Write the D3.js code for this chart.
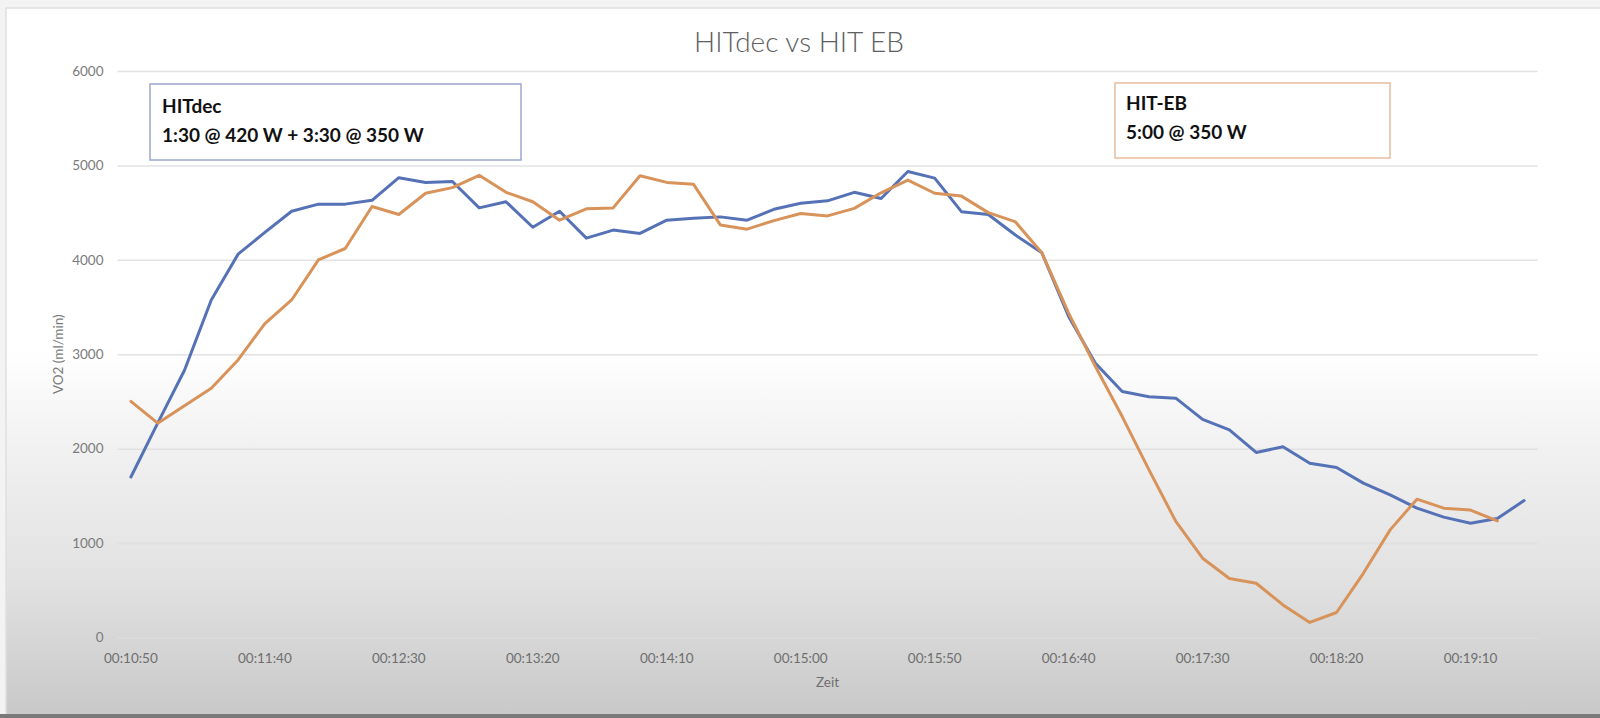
<!DOCTYPE html>
<html>
<head>
<meta charset="utf-8">
<script src="https://cdn.jsdelivr.net/npm/d3@7"></script>
<style>
  html, body { margin: 0; padding: 0; background: #f2f2f2; }
  svg { display: block; }
</style>
</head>
<body>
<svg id="chart" width="1600" height="718"></svg>
<script>
const categories = [
  "00:10:50","00:11:00","00:11:10","00:11:20","00:11:30","00:11:40","00:11:50","00:12:00","00:12:10","00:12:20",
  "00:12:30","00:12:40","00:12:50","00:13:00","00:13:10","00:13:20","00:13:30","00:13:40","00:13:50","00:14:00",
  "00:14:10","00:14:20","00:14:30","00:14:40","00:14:50","00:15:00","00:15:10","00:15:20","00:15:30","00:15:40",
  "00:15:50","00:16:00","00:16:10","00:16:20","00:16:30","00:16:40","00:16:50","00:17:00","00:17:10","00:17:20",
  "00:17:30","00:17:40","00:17:50","00:18:00","00:18:10","00:18:20","00:18:30","00:18:40","00:18:50","00:19:00",
  "00:19:10","00:19:20","00:19:30"
];
const hitDec = [
  1700,2270,2830,3575,4060,4290,4515,4590,4590,4630,
  4870,4820,4830,4550,4615,4345,4515,4230,4315,4280,
  4420,4440,4455,4420,4535,4600,4625,4715,4650,4935,
  4865,4510,4480,4265,4075,3400,2905,2605,2550,2535,
  2310,2200,1960,2020,1845,1800,1635,1510,1370,1275,
  1210,1260,1450
];
const hitEB = [
  2500,2270,2455,2640,2940,3325,3575,4000,4120,4565,
  4480,4705,4765,4895,4715,4615,4420,4540,4550,4890,
  4820,4800,4370,4325,4415,4490,4465,4545,4710,4845,
  4705,4675,4500,4405,4075,3435,2870,2340,1775,1230,
  840,625,575,345,160,265,680,1140,1465,1370,
  1350,1235
];
const xTickLabels = ["00:10:50","00:11:40","00:12:30","00:13:20","00:14:10","00:15:00","00:15:50","00:16:40","00:17:30","00:18:20","00:19:10"];
const yTickValues = [0,1000,2000,3000,4000,5000,6000];

const svg = d3.select("#chart");
const W = 1600, H = 718;
const plot = { left: 117.5, right: 1537.5, top: 71, bottom: 637.5 };

// background with bottom vignette
const defs = svg.append("defs");
const grad = defs.append("linearGradient").attr("id","bg").attr("x1",0).attr("y1",0).attr("x2",0).attr("y2",1);
grad.append("stop").attr("offset","0%").attr("stop-color","#ffffff");
grad.append("stop").attr("offset","48%").attr("stop-color","#ffffff");
grad.append("stop").attr("offset","62%").attr("stop-color","#f1f1f1");
grad.append("stop").attr("offset","80%").attr("stop-color","#e2e2e2");
grad.append("stop").attr("offset","100%").attr("stop-color","#c8c8c8");

svg.append("rect").attr("x",0).attr("y",0).attr("width",W).attr("height",H).attr("fill","#f3f3f3");
svg.append("rect").attr("x",6).attr("y",8).attr("width",1600).attr("height",H-8).attr("fill","url(#bg)")
  .attr("stroke","#e0e0e0").attr("stroke-width",1.5);
svg.append("rect").attr("x",0).attr("y",714).attr("width",W).attr("height",4).attr("fill","#7a7a7a");

const x = d3.scaleBand().domain(categories).range([plot.left, plot.right]);
const cx = d => x(d) + x.bandwidth() / 2;
const y = d3.scaleLinear().domain([0, 6000]).range([plot.bottom, plot.top]);

// y axis with gridlines
const yAxis = svg.append("g").attr("transform", `translate(${plot.left},0)`)
  .call(d3.axisLeft(y).tickValues(yTickValues).tickSize(-(plot.right - plot.left)).tickPadding(14).tickFormat(d3.format("d")));
yAxis.select(".domain").remove();
yAxis.selectAll(".tick line").attr("stroke","#dedede").attr("stroke-width",1.5).attr("stroke-opacity",0.85);
yAxis.selectAll(".tick text").attr("fill","#7a7a7a").style("font-family","Lato, 'Open Sans', sans-serif").style("font-size","13.5px");

// x axis
const xAxis = svg.append("g").attr("transform", `translate(0,${plot.bottom})`)
  .call(d3.axisBottom(x).tickValues(xTickLabels).tickSize(0));
xAxis.select(".domain").remove();
xAxis.selectAll(".tick text").attr("y",25).attr("dy",null).attr("fill","#6e6e6e")
  .style("font-family","Lato, 'Open Sans', sans-serif").style("font-size","13.5px");

// axis titles
svg.append("text").attr("x",(plot.left+plot.right)/2).attr("y",687).attr("text-anchor","middle")
  .attr("fill","#6e6e6e").style("font-family","Lato, 'Open Sans', sans-serif").style("font-size","13.5px").text("Zeit");
svg.append("text").attr("transform",`translate(63,${(plot.top+plot.bottom)/2}) rotate(-90)`).attr("text-anchor","middle")
  .attr("fill","#7a7a7a").style("font-family","Lato, 'Open Sans', sans-serif").style("font-size","13.5px").text("VO2 (ml/min)");

// title
svg.append("text").attr("x",799).attr("y",52).attr("text-anchor","middle").attr("fill","#606060")
  .style("font-family","Lato, 'Open Sans', sans-serif").style("font-size","28px").style("font-weight","300")
  .text("HITdec vs HIT EB");

// lines
const line = d3.line().x((d,i) => cx(categories[i])).y(d => y(d));
svg.append("path").datum(hitDec).attr("d", line).attr("fill","none").attr("stroke","#5672b6")
  .attr("stroke-width",3).attr("stroke-linejoin","round").attr("stroke-linecap","round");
svg.append("path").datum(hitEB).attr("d", line).attr("fill","none").attr("stroke","#d8935a")
  .attr("stroke-width",3).attr("stroke-linejoin","round").attr("stroke-linecap","round");

// annotation boxes
function box(x0, y0, w, h, stroke, lines) {
  svg.append("rect").attr("x",x0).attr("y",y0).attr("width",w).attr("height",h)
    .attr("fill","#ffffff").attr("stroke",stroke).attr("stroke-width",1.5);
  lines.forEach(l => {
    svg.append("text").attr("x",l.x).attr("y",l.y).attr("fill","#111")
      .style("font-family","Lato, 'Open Sans', sans-serif").style("font-size","19px").style("font-weight","700")
      .text(l.t);
  });
}
box(150, 84, 371, 76, "#9aa8d0", [{x:162,y:113,t:"HITdec"},{x:162,y:142,t:"1:30 @ 420 W + 3:30 @ 350 W"}]);
box(1115, 83, 275, 75, "#e6bc9c", [{x:1126,y:110,t:"HIT-EB"},{x:1126,y:139,t:"5:00 @ 350 W"}]);
</script>
</body>
</html>
